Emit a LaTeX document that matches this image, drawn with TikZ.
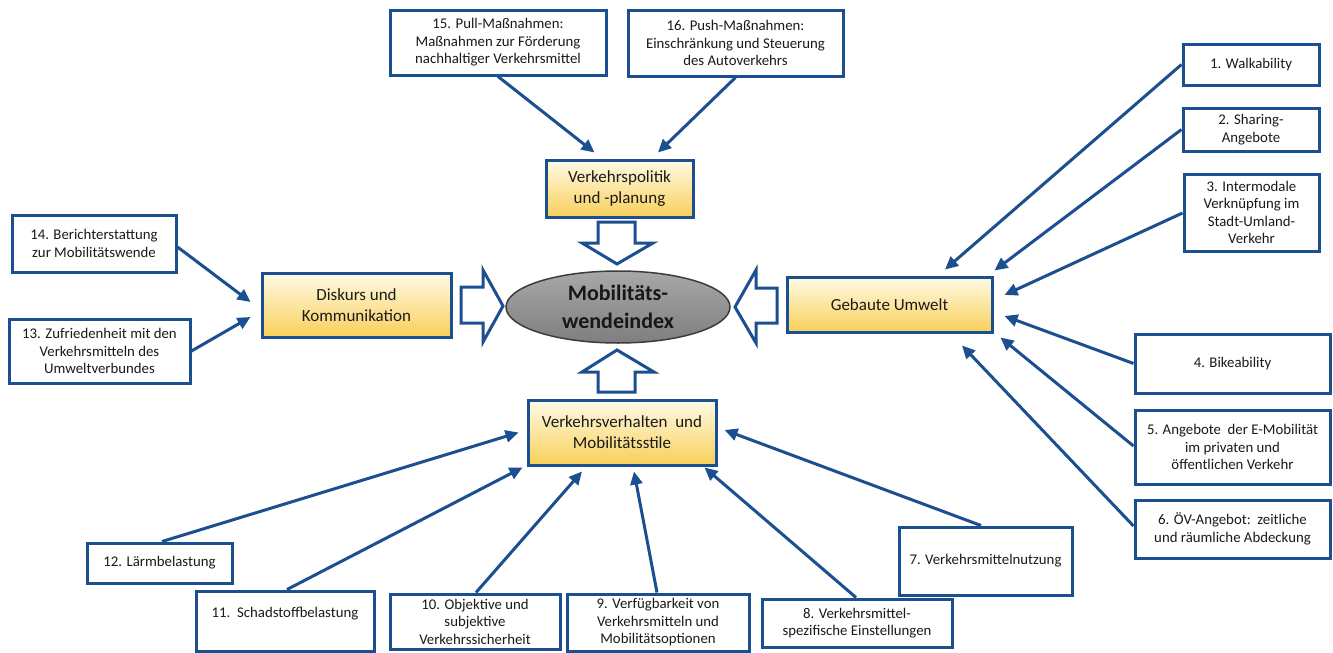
\documentclass[tikz,border=0pt]{standalone}
\usepackage{fontspec}
\setmainfont{Carlito}
\usetikzlibrary{arrows.meta,shapes.geometric}
\definecolor{bblue}{HTML}{1B4F8F}
\definecolor{ycream}{HTML}{FFFAE6}
\definecolor{ygold}{HTML}{F8D05A}
\definecolor{elltop}{HTML}{A8A8A8}
\definecolor{ellbot}{HTML}{7E7E7E}
\definecolor{ellline}{HTML}{3C3C3C}
\definecolor{txt}{HTML}{1A1A1A}
\begin{document}
\begin{tikzpicture}[x=1pt,y=-1pt,
  smallbox/.style={draw=bblue, line width=3pt, fill=white, align=center, inner sep=0pt, text=txt, font=\fontsize{14.8}{17.5}\selectfont},
  mainbox/.style={draw=bblue, line width=3pt, top color=ycream, bottom color=ygold, align=center, inner sep=0pt, text=txt, font=\fontsize{17}{21}\selectfont},
  conn/.style={draw=bblue, line width=3pt, -{Triangle[length=13pt,width=12pt]}},
  blockarrow/.style={draw=bblue, line width=3pt, fill=white, line join=miter}]
\useasboundingbox (0,0) rectangle (1333,653);
\fill[white] (0,0) rectangle (1333,653);

% top boxes
\node[smallbox, minimum width=216pt, minimum height=65pt] (n15) at (498,42.5) {15. Pull-Maßnahmen:\\Maßnahmen zur Förderung\\nachhaltiger Verkehrsmittel};
\node[smallbox, minimum width=215pt, minimum height=66pt] (n16) at (735.5,43) {16. Push-Maßnahmen:\\Einschränkung und Steuerung\\des Autoverkehrs};

% main boxes
\node[mainbox, minimum width=147pt, minimum height=57pt] (vp) at (619.5,188.5) {Verkehrspolitik\\und -planung};
\node[mainbox, minimum width=189pt, minimum height=64pt] (dk) at (356.5,305) {Diskurs und\\Kommunikation};
\node[mainbox, minimum width=205pt, minimum height=55pt] (gu) at (889.5,304.5) {Gebaute Umwelt};
\node[mainbox, minimum width=188pt, minimum height=65pt] (vv) at (622,432.5) {Verkehrsverhalten\ \ und\\Mobilitätsstile};

% centre
\node[ellipse, draw=ellline, line width=1.5pt, top color=elltop, bottom color=ellbot, minimum width=224pt, minimum height=72pt, inner sep=0pt, align=center, text=txt!90!black, font=\bfseries\fontsize{22}{28}\selectfont] (mwi) at (618,307) {Mobilitäts-\\wendeindex};

% block arrows
\draw[blockarrow] (598,222) -- (635,222) -- (635,243) -- (653,243) -- (617,264) -- (582,243) -- (598,243) -- cycle;
\draw[blockarrow] (598,392) -- (635,392) -- (635,372) -- (654,372) -- (617,350) -- (582,372) -- (598,372) -- cycle;
\draw[blockarrow] (461,287) -- (483,287) -- (483,270) -- (503,306) -- (483,342) -- (483,323) -- (461,323) -- cycle;
\draw[blockarrow] (777,288) -- (756,288) -- (756,270) -- (735,307) -- (756,343) -- (756,323) -- (777,323) -- cycle;

% left boxes
\node[smallbox, minimum width=164pt, minimum height=57pt] (n14) at (94,243.5) {14. Berichterstattung\\zur Mobilitätswende};
\node[smallbox, minimum width=181pt, minimum height=64pt] (n13) at (99.5,351) {13. Zufriedenheit mit den\\Verkehrsmitteln des\\Umweltverbundes};

% right boxes
\node[smallbox, minimum width=136pt, minimum height=41pt] (n1) at (1251,64.5) {1. Walkability};
\node[smallbox, minimum width=136pt, minimum height=43pt] (n2) at (1251,129.5) {2. Sharing-\\Angebote};
\node[smallbox, minimum width=135pt, minimum height=77pt] (n3) at (1251.5,212.5) {3. Intermodale\\Verknüpfung im\\Stadt-Umland-\\Verkehr};
\node[smallbox, minimum width=195pt, minimum height=59pt] (n4) at (1232.5,363.5) {4. Bikeability};
\node[smallbox, minimum width=195pt, minimum height=74pt] (n5) at (1232.5,447) {5. Angebote\ \ der E-Mobilität\\im privaten und\\öffentlichen Verkehr};
\node[smallbox, minimum width=195pt, minimum height=58pt] (n6) at (1232.5,529) {6. ÖV-Angebot:\ \ zeitliche\\und räumliche Abdeckung};

% bottom boxes
\node[smallbox, minimum width=145pt, minimum height=40pt] (n12) at (159.5,563) {12. Lärmbelastung};
\node[smallbox, minimum width=178pt, minimum height=60pt] (n11) at (285,621) {11.\ \ Schadstoffbelastung\\\mbox{}};
\node[smallbox, minimum width=170pt, minimum height=55pt] (n10) at (475,621.5) {10. Objektive und\\subjektive\\Verkehrssicherheit};
\node[smallbox, minimum width=182pt, minimum height=57pt] (n9) at (658,622.5) {9. Verfügbarkeit von\\Verkehrsmitteln und\\Mobilitätsoptionen};
\node[smallbox, minimum width=190pt, minimum height=48pt] (n8) at (857,623) {8. Verkehrsmittel-\\spezifische Einstellungen};
\node[smallbox, minimum width=173pt, minimum height=68pt] (n7) at (985.5,561) {7. Verkehrsmittelnutzung};

% connectors
\draw[conn] (n15.south) -- ([xshift=-25pt,yshift=6pt]vp.north);
\draw[conn] (n16.south) -- ([xshift=38.5pt,yshift=6pt]vp.north);
\draw[conn] ([yshift=-3.5pt]n14.east) -- ([xshift=-10pt,yshift=3pt]dk.west);
\draw[conn] (n13.east) -- ([xshift=-10pt,yshift=-12pt]dk.west);
\draw[conn] (n1.west) -- ([xshift=55.5pt,yshift=6pt]gu.north);
\draw[conn] (n2.west) -- ([xshift=1pt,yshift=5pt]gu.north east);
\draw[conn] ([yshift=-0.5pt]n3.west) -- ([xshift=11pt,yshift=9.5pt]gu.east);
\draw[conn] (n4.west) -- ([xshift=11pt,yshift=-11.5pt]gu.east);
\draw[conn] ([yshift=1pt]n5.west) -- ([xshift=7pt,yshift=-4pt]gu.south east);
\draw[conn] ([yshift=3pt]n6.west) -- ([xshift=72.5pt,yshift=-12pt]gu.south);
\draw[conn] ([xshift=2.5pt]n12.north) -- ([xshift=-8pt]vv.west);
\draw[conn] ([xshift=2pt]n11.north) -- ([xshift=-4pt,yshift=-1pt]vv.south west);
\draw[conn] ([xshift=1pt]n10.north) -- ([xshift=-40pt,yshift=-5pt]vv.south);
\draw[conn] ([xshift=-1pt]n9.north) -- ([xshift=12pt,yshift=-5pt]vv.south);
\draw[conn] ([xshift=-1pt]n8.north) -- ([xshift=-13pt,yshift=-1pt]vv.south east);
\draw[conn] ([xshift=-4.5pt]n7.north) -- ([xshift=7pt,yshift=2.5pt]vv.east);
\end{tikzpicture}
\end{document}
